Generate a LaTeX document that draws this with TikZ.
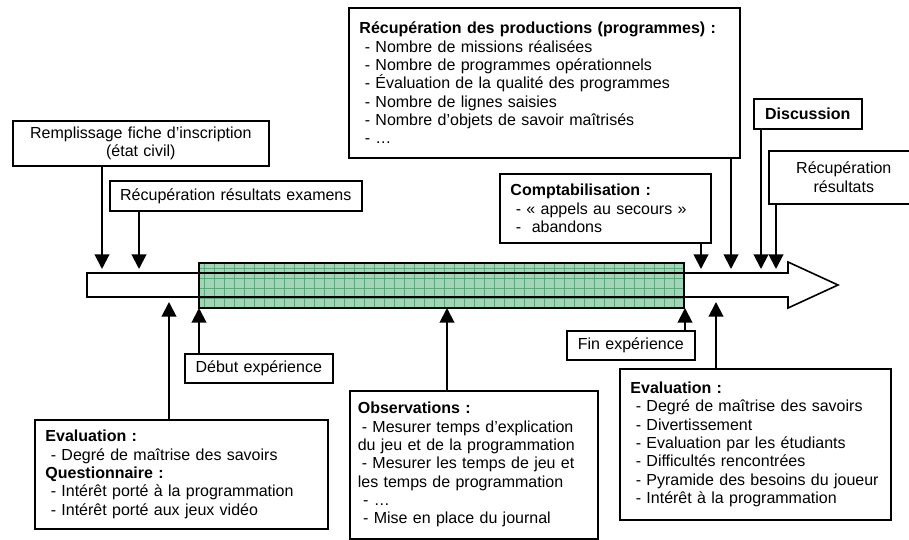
\documentclass[tikz,border=0pt]{standalone}
\usepackage{fontspec}
\setmainfont{Liberation Sans}
\usepackage{tikz}
\usetikzlibrary{arrows.meta}
\definecolor{greenfill}{RGB}{162,212,182}
\definecolor{greenline}{RGB}{92,168,124}

\begin{document}
\begin{tikzpicture}[x=0.75pt, y=-0.75pt, >={Triangle[width=11pt,length=11pt]}, line width=1.2pt,
	box/.style={draw, anchor=north west, inner xsep=8pt, inner ysep=0pt, align=left, font=\fontsize{12}{13.75}\selectfont},
	cbox/.style={box, align=center, inner xsep=4pt},
	link/.style={->, line width=1.5pt}]
			\useasboundingbox (0,0) rectangle (909,539);
			
			\draw[fill=white] (87,273) -- (788,273) -- (788,262) -- (838,285) -- (788,308) -- (788,297) -- (87,297) -- cycle;
			\fill[greenfill] (199,263) rectangle (684,308);
			\foreach \gx in {204,214,...,674}
				\draw[greenline, line width=0.6pt] (\gx,263) -- (\gx,308);
			\foreach \gy in {268,278,...,298}
				\draw[greenline, line width=0.6pt] (199,\gy) -- (684,\gy);
			\draw (199,273) -- (684,273) (199,297) -- (684,297);
			\draw (199,263) rectangle (684,308);
			
			\node[cbox, text width=184pt, minimum height=33.75pt] (fiche) at (12,120) {Remplissage fiche d’inscription\\(état civil)};
			\node[cbox, text width=181pt, minimum height=22.5pt] (examens) at (109,180) {Récupération résultats examens};
			\node[box, text width=277.25pt, minimum height=112.5pt] (prod) at (348,7) {\textbf{Récupération des productions (programmes) :}\\~- Nombre de missions réalisées\\~- Nombre de programmes opérationnels\\~- Évaluation de la qualité des programmes\\~- Nombre de lignes saisies\\~- Nombre d’objets de savoir maîtrisés\\~- …};
			\node[box, text width=142.25pt, minimum height=51.75pt] (compta) at (499,173) {\textbf{Comptabilisation :}\\~- «~appels au secours~»\\~-~~abandons};
			\node[cbox, text width=73pt, minimum height=22.5pt] (disc) at (753,98) {\textbf{Discussion}};
			\node[cbox, text width=104.5pt, minimum height=39.75pt] (recup) at (768,150) {Récupération\\résultats};
			
			\node[cbox, text width=103pt, minimum height=21.75pt] (debut) at (184,353) {Début expérience};
			\node[cbox, text width=88pt, minimum height=21.75pt] (fin) at (566,330) {Fin expérience};
			\node[box, text width=203.75pt, minimum height=81.75pt] (eval_in) at (34,419) {\textbf{Evaluation :}\\~- Degré de maîtrise des savoirs\\\textbf{Questionnaire :}\\~- Intérêt porté à la programmation\\~- Intérêt porté aux jeux vidéo};
			\node[box, inner xsep=6pt, text width=174pt, minimum height=111pt] (obs) at (349,390) {\textbf{Observations :}\\\makebox[\linewidth][s]{\hspace*{3pt}- Mesurer temps d’explication}\\du jeu et de la programmation\\\makebox[\linewidth][s]{\hspace*{3pt}- Mesurer les temps de jeu et}\\les temps de programmation\\~- …\\~- Mise en place du journal};
			\node[box, text width=187.25pt, minimum height=113.25pt] (eval_out) at (619,368) {\textbf{Evaluation :}\\~- Degré de maîtrise des savoirs\\~- Divertissement\\~- Evaluation par les étudiants\\~- Difficultés rencontrées\\~- Pyramide des besoins du joueur\\~- Intérêt à la programmation};
			
			\coordinate (tip_fiche) at (102,269);
			\coordinate (tip_examens) at (139,269);
			\coordinate (tip_compta) at (701,269);
			\coordinate (tip_prod) at (731,269);
			\coordinate (tip_disc) at (761,269);
			\coordinate (tip_recup) at (776,269);
			\coordinate (tip_eval_in) at (169,302);
			\coordinate (tip_debut) at (199,308);
			\coordinate (tip_obs) at (447,308);
			\coordinate (tip_fin) at (685,308);
			\coordinate (tip_eval_out) at (716,302);
			
			\draw[link] (tip_fiche |- fiche.south) -- (tip_fiche);
			\draw[link] (tip_examens |- examens.south) -- (tip_examens);
			\draw[link] (tip_compta |- compta.south) -- (tip_compta);
			\draw[link] (tip_prod |- prod.south) -- (tip_prod);
			\draw[link] (tip_disc |- disc.south) -- (tip_disc);
			\draw[link] (tip_recup |- recup.south) -- (tip_recup);
			
			\draw[link] (tip_eval_in |- eval_in.north) -- (tip_eval_in);
			\draw[link] (tip_debut |- debut.north) -- (tip_debut);
			\draw[link] (tip_obs |- obs.north) -- (tip_obs);
			\draw[link] (tip_fin |- fin.north) -- (tip_fin);
			\draw[link] (tip_eval_out |- eval_out.north) -- (tip_eval_out);
		\end{tikzpicture}
\end{document}
